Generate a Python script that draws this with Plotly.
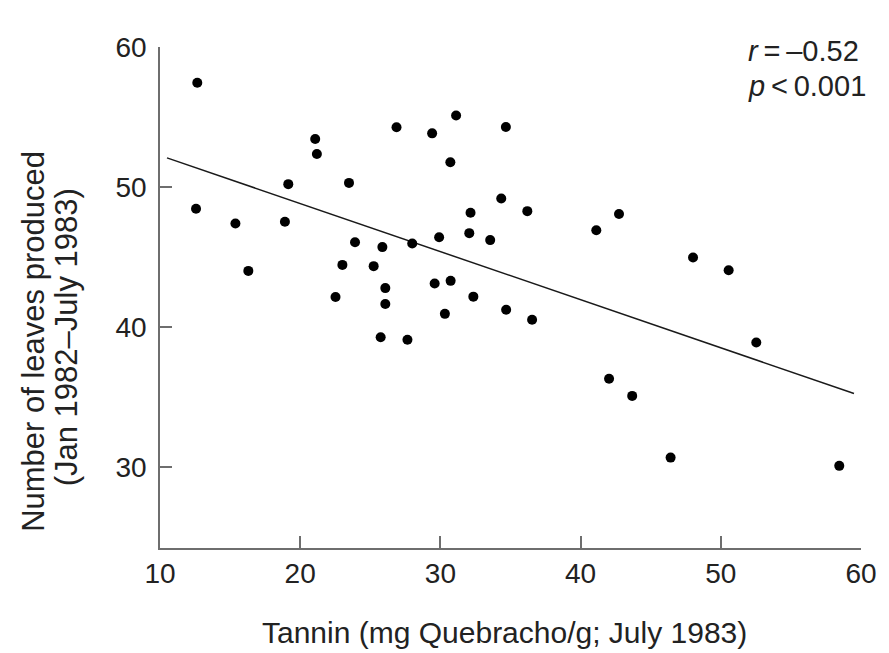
import plotly.graph_objects as go

# ---- data ----
tannin = [12.66, 21.07, 21.19, 19.15, 23.48, 12.57, 15.38, 18.91, 23.91, 16.30,
          23.01, 22.52, 26.87, 29.41, 31.12, 34.67, 30.71, 34.34, 32.15, 36.20,
          25.86, 27.99, 29.91, 32.06, 33.55, 25.24, 26.07, 26.07, 29.59, 30.73,
          32.35, 30.32, 34.69, 36.54, 25.74, 27.65, 42.74, 41.12, 48.02, 50.56,
          52.53, 42.03, 43.68, 46.42, 58.45]
leaves = [57.44, 53.42, 52.35, 50.20, 50.29, 48.44, 47.39, 47.51, 46.05, 44.00,
          44.43, 42.14, 54.26, 53.83, 55.11, 54.28, 51.77, 49.18, 48.15, 48.27,
          45.70, 45.96, 46.41, 46.70, 46.20, 44.34, 42.77, 41.64, 43.10, 43.29,
          42.16, 40.93, 41.23, 40.51, 39.26, 39.08, 48.07, 46.91, 44.96, 44.05,
          38.88, 36.29, 35.07, 30.66, 30.07]
fit_x = [10.5, 59.5]
fit_y = [52.08, 35.24]

x_ticks = [10, 20, 30, 40, 50, 60]
y_ticks = [30, 40, 50, 60]

x_title = "Tannin (mg Quebracho/g; July 1983)"
y_title_lines = ["Number of leaves produced", "(Jan 1982\u2013July 1983)"]
stat_lines = ["<i>r</i>\u2009=\u2009\u20130.52", "<i>p</i>\u2009<\u20090.001"]

FONT = "Liberation Sans, Arial, Helvetica, sans-serif"
AXIS_COLOR = "#6e6e6e"

fig = go.Figure()
fig.add_trace(go.Scatter(x=fit_x, y=fit_y, mode="lines",
                         line=dict(color="#1a1a1a", width=1.5),
                         showlegend=False, hoverinfo="skip"))
fig.add_trace(go.Scatter(x=tannin, y=leaves, mode="markers",
                         marker=dict(color="black", size=10),
                         showlegend=False))

axis_common = dict(showgrid=False, zeroline=False, showline=True,
                   linecolor=AXIS_COLOR, linewidth=1.5,
                   ticks="inside", ticklen=12, tickwidth=1.5, tickcolor=AXIS_COLOR,
                   tickfont=dict(family=FONT, size=28, color="#222222"))

fig.update_xaxes(range=[10, 60], tickvals=x_ticks, ticktext=[str(v) for v in x_ticks],
                 ticklabelstandoff=0, **axis_common)
fig.update_yaxes(range=[24.2, 60], tickvals=y_ticks, ticktext=[str(v) for v in y_ticks],
                 ticklabelstandoff=6, **axis_common)

ann = []
ann.append(dict(text=x_title, xref="paper", yref="paper", x=0.492, y=-0.1677,
                xanchor="center", yanchor="middle", showarrow=False,
                font=dict(family=FONT, size=30, color="#222222")))
for txt, xp, yp in zip(y_title_lines, [-0.1815, -0.1330], [0.413, 0.420]):
    ann.append(dict(text=txt, xref="paper", yref="paper", x=xp, y=yp,
                    xanchor="center", yanchor="middle", textangle=-90, showarrow=False,
                    font=dict(family=FONT, size=31, color="#222222")))
for txt, yp in zip(stat_lines, [0.993, 0.922]):
    ann.append(dict(text=txt, xref="paper", yref="paper", x=0.836, y=yp,
                    xanchor="left", yanchor="middle", showarrow=False,
                    font=dict(family=FONT, size=29, color="#222222")))

# page body has an 8px default margin; compensate so the plot lands where the reference has it
fig.update_layout(width=881, height=645,
                  margin=dict(l=152, r=24, t=39, b=105),
                  paper_bgcolor="white", plot_bgcolor="white",
                  annotations=ann)

fig.write_html("out.html")
